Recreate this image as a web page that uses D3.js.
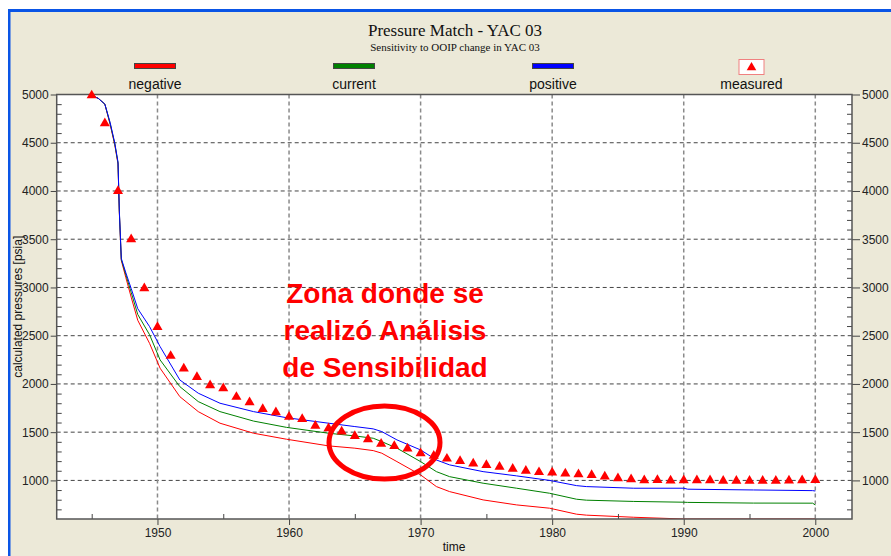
<!DOCTYPE html>
<html><head><meta charset="utf-8">
<script src="https://cdn.jsdelivr.net/npm/d3@7"></script>
<style>body{margin:0;overflow:hidden;background:#fff}</style>
</head><body><div id="chart"></div>
<script>
// ---- data ----
const simYears = [1945, 1945.5, 1946, 1946.4, 1946.75, 1947.0, 1947.1, 1947.25, 1947.6, 1948, 1948.5, 1949.4, 1950.2, 1951.7, 1953.1, 1954.75, 1957.3, 1959.8, 1963, 1965, 1966.4, 1967.05, 1968.2, 1970, 1971.2, 1972.2, 1974.75, 1977.3, 1979.8, 1981.85, 1982.6, 1986.2, 1990, 1990.3, 1995.3, 1999.8, 2000];
const negative = [4990, 4960, 4900, 4690, 4480, 4280, 3780, 3280, 3100, 2900, 2660, 2420, 2163, 1868, 1713, 1593, 1489, 1427, 1358, 1334, 1309, 1282, 1195, 1057, 936, 884, 798, 746, 712, 650, 640, 618, 600, 600, 600, 600, 600];
const current  = [4990, 4960, 4900, 4700, 4490, 4290, 3790, 3290, 3130, 2950, 2720, 2510, 2249, 1972, 1817, 1713, 1615, 1550, 1489, 1461, 1437, 1402, 1334, 1195, 1091, 1039, 971, 919, 867, 805, 795, 782, 774, 772, 765, 764, 745];
const positive = [4990, 4960, 4900, 4710, 4500, 4300, 3800, 3300, 3150, 2990, 2780, 2594, 2387, 2041, 1904, 1800, 1713, 1650, 1593, 1558, 1534, 1506, 1420, 1316, 1212, 1161, 1091, 1047, 1000, 946, 936, 919, 919, 909, 901, 894, 890];
const measuredYears = [1945,1946,1947,1948,1949,1950,1951,1952,1953,1954,1955,1956,1957,1958,1959,1960,1961,1962,1963,1964,1965,1966,1967,1968,1969,1970,1971,1972,1973,1974,1975,1976,1977,1978,1979,1980,1981,1982,1983,1984,1985,1986,1987,1988,1989,1990,1991,1992,1993,1994,1995,1996,1997,1998,1999,2000];
const measured = [4990,4700,4000,3500,2990,2590,2290,2160,2070,1985,1955,1865,1810,1740,1705,1660,1635,1565,1540,1505,1460,1425,1378,1355,1330,1280,1255,1225,1200,1175,1160,1140,1120,1100,1085,1080,1070,1062,1055,1040,1022,1012,1000,1003,998,1000,1000,1000,995,995,995,995,996,998,1000,1003];
const seriesNames = ["negative", "current", "positive", "measured"];
const seriesColors = ["#ff0000", "#008000", "#0000ff", "#ff0000"];
const yMajorTicks = [1000, 1500, 2000, 2500, 3000, 3500, 4000, 4500, 5000];
const yMinorTicks = [700,800,900,1100,1200,1300,1400,1600,1700,1800,1900,2100,2200,2300,2400,2600,2700,2800,2900,3100,3200,3300,3400,3600,3700,3800,3900,4100,4200,4300,4400,4600,4700,4800,4900];
const xMajorTicks = [1950, 1960, 1970, 1980, 1990, 2000];
const xMinorTicks = [1945, 1955, 1965, 1975, 1985, 1995];
const titleText = "Pressure Match - YAC 03";
const subtitleText = "Sensitivity to OOIP change in YAC 03";
const yLabel = "calculated pressures [psia]";
const xLabel = "time";
const noteLines = ["Zona donde se", "realizó Análisis", "de Sensibilidad"];

// ---- layout ----
const W = 891, H = 556;
const L = 56.7, R = 852, T = 94.5, B = 519;
const svg = d3.select("#chart").append("svg").attr("width", W).attr("height", H)
  .style("font-family", "'Liberation Sans', Arial, sans-serif");

svg.append("rect").attr("width", W).attr("height", H).attr("fill", "#fff");
svg.append("rect").attr("x", 8).attr("y", 9).attr("width", W - 8).attr("height", H - 9).attr("fill", "#ece9d8");
svg.append("rect").attr("x", 8).attr("y", 9).attr("width", W - 8).attr("height", 3).attr("fill", "#0a55e6");
svg.append("rect").attr("x", 8).attr("y", 9).attr("width", 2.5).attr("height", H - 9).attr("fill", "#0a55e6");

const x = d3.scaleLinear().domain([1942.34, 2002.79]).range([L, R]);
const y = d3.scaleLinear().domain([600, 5000]).range([B, T]);

// plot background
svg.append("rect").attr("x", L).attr("y", T).attr("width", R - L).attr("height", B - T).attr("fill", "#fff");

// grid
const grid = svg.append("g");
grid.selectAll("line.h").data(yMajorTicks.filter(v => v < 5000)).join("line")
  .attr("x1", L).attr("x2", R).attr("y1", d => y(d)).attr("y2", d => y(d))
  .attr("stroke", "#444").attr("stroke-width", 1).attr("stroke-dasharray", "4,3");
grid.selectAll("line.v").data(xMajorTicks).join("line")
  .attr("y1", T).attr("y2", B).attr("x1", d => x(d)).attr("x2", d => x(d))
  .attr("stroke", "#8a8a8a").attr("stroke-width", 1.5).attr("stroke-dasharray", "4,3");

// clip
svg.append("clipPath").attr("id", "clip").append("rect")
  .attr("x", L).attr("y", T - 1).attr("width", R - L).attr("height", B - T + 1);

const line = d3.line().x(d => x(d[0])).y(d => y(d[1]));
const lines = svg.append("g").attr("clip-path", "url(#clip)");
[[negative, seriesColors[0]], [current, seriesColors[1]], [positive, seriesColors[2]]].forEach(([vals, c]) => {
  lines.append("path").datum(simYears.map((yr, i) => [yr, vals[i]]))
    .attr("d", line).attr("fill", "none").attr("stroke", c).attr("stroke-width", 1);
});

// axes
const fmt = d3.format("d");
function styleAxis(g) {
  g.selectAll("path.domain").remove();
  g.selectAll("line").attr("stroke", "#444");
  g.selectAll("text").attr("fill", "#222").style("font-size", "12px").style("font-family", "'Liberation Sans', Arial, sans-serif");
}
svg.append("g").attr("transform", `translate(${L},0)`)
  .call(d3.axisLeft(y).tickValues(yMajorTicks).tickSize(6).tickPadding(2).tickFormat(fmt)).call(styleAxis);
svg.append("g").attr("transform", `translate(${L},0)`)
  .call(d3.axisRight(y).tickValues(yMinorTicks).tickSize(5).tickFormat("")).call(styleAxis);
svg.append("g").attr("transform", `translate(${R},0)`)
  .call(d3.axisRight(y).tickValues(yMajorTicks).tickSize(8).tickPadding(2).tickFormat(fmt)).call(styleAxis);
svg.append("g").attr("transform", `translate(${R},0)`)
  .call(d3.axisLeft(y).tickValues(yMinorTicks).tickSize(5).tickFormat("")).call(styleAxis);
svg.append("g").attr("transform", `translate(0,${B})`)
  .call(d3.axisBottom(x).tickValues(xMajorTicks).tickSize(6).tickPadding(3).tickFormat(fmt)).call(styleAxis);
svg.append("g").attr("transform", `translate(0,${B})`)
  .call(d3.axisTop(x).tickValues(xMinorTicks).tickSize(5).tickFormat("")).call(styleAxis);

// frame
svg.append("rect").attr("x", L).attr("y", T).attr("width", R - L).attr("height", B - T)
  .attr("fill", "none").attr("stroke", "#555").attr("stroke-width", 1.5);

// measured markers
const tri = d3.symbol().type(d3.symbolTriangle).size(44);
svg.append("g").selectAll("path").data(measuredYears.map((yr, i) => [yr, measured[i]]))
  .join("path").attr("d", tri)
  .attr("transform", d => `translate(${x(d[0])},${y(d[1])})`)
  .attr("fill", seriesColors[3]);

// titles
svg.append("text").attr("x", 455).attr("y", 36).attr("text-anchor", "middle")
  .style("font-family", "'Liberation Serif', 'Times New Roman', serif").style("font-size", "17px").attr("fill", "#111").text(titleText);
svg.append("text").attr("x", 455).attr("y", 51).attr("text-anchor", "middle")
  .style("font-family", "'Liberation Serif', 'Times New Roman', serif").style("font-size", "11px").attr("fill", "#111").text(subtitleText);

// legend
const legendX = [155, 354, 553, 751.5];
seriesNames.forEach((name, i) => {
  const cx = legendX[i];
  if (i < 3) {
    svg.append("rect").attr("x", cx - 20.5).attr("y", 63.5).attr("width", 41).attr("height", 5)
      .attr("fill", seriesColors[i]).attr("stroke", "#444").attr("stroke-width", 1);
  } else {
    svg.append("rect").attr("x", cx - 12.5).attr("y", 59.5).attr("width", 25).attr("height", 15)
      .attr("fill", "#fff").attr("stroke", "#f08080").attr("stroke-width", 1);
    svg.append("path").attr("d", d3.symbol().type(d3.symbolTriangle).size(40))
      .attr("transform", `translate(${cx},${67.5})`).attr("fill", seriesColors[i]);
  }
  svg.append("text").attr("x", cx).attr("y", 89).attr("text-anchor", "middle")
    .style("font-size", "14px").attr("fill", "#111").text(name);
});

// axis labels
svg.append("text").attr("transform", `translate(22,${(T + B) / 2}) rotate(-90)`).attr("text-anchor", "middle")
  .style("font-size", "12px").attr("fill", "#111").text(yLabel);
svg.append("text").attr("x", 454).attr("y", 551).attr("text-anchor", "middle")
  .style("font-size", "12px").attr("fill", "#111").text(xLabel);

// annotation
svg.append("g").selectAll("text").data(noteLines).join("text")
  .attr("x", 385).attr("y", (d, i) => 303 + i * 37).attr("text-anchor", "middle")
  .style("font-size", "28px").style("font-weight", "bold").attr("fill", "#ff0000").text(d => d);
svg.append("ellipse").attr("cx", 384.5).attr("cy", 442.5).attr("rx", 55.5).attr("ry", 36.5)
  .attr("fill", "none").attr("stroke", "#ff0000").attr("stroke-width", 5);
</script>
</body></html>
